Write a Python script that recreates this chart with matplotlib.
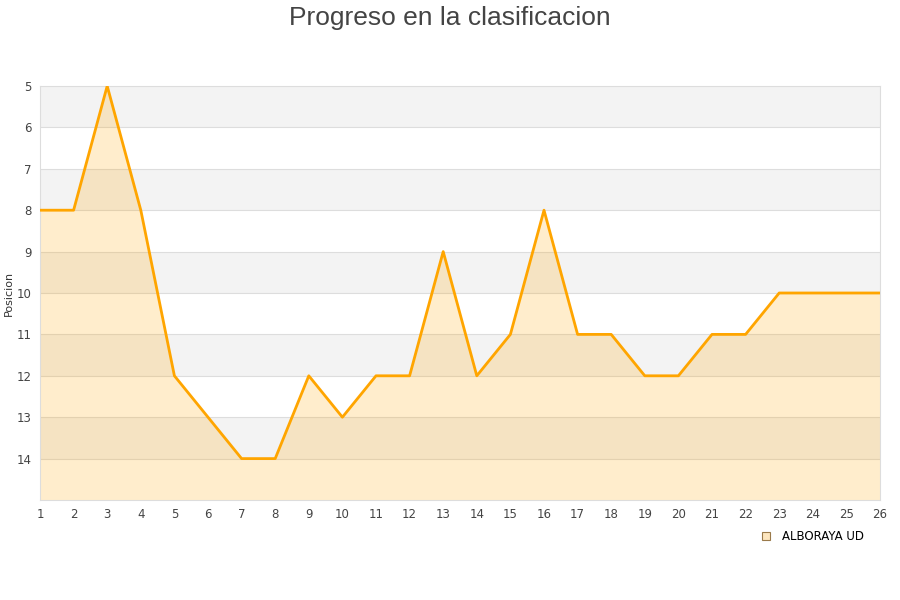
import matplotlib
matplotlib.use('Agg')
import matplotlib.pyplot as plt
import numpy as np

# Jornadas y posicion en la clasificacion
jornadas = list(range(1, 27))
posicion = [8, 8, 5, 8, 12, 13, 14, 14, 12, 13, 12, 12, 9, 12, 11, 8, 11, 11,
            12, 12, 11, 11, 10, 10, 10, 10]
equipo = "ALBORAYA UD"

fig = plt.figure(figsize=(9, 6), dpi=100)
ax = fig.add_axes([40/900, 1 - 500/600, 840/900, 414/600])

# alternating bands
for y0 in range(5, 15, 2):
    ax.axhspan(y0, y0 + 1, color="#f3f3f3", zorder=0, lw=0)
for y in range(6, 15):
    ax.axhline(y, color="#dddddd", lw=0.8, zorder=1)

ax.fill_between(jornadas, posicion, 15, color="orange", alpha=0.2, lw=0, zorder=2)
ax.plot(jornadas, posicion, color="orange", lw=2.0, zorder=3, label=equipo)

ax.set_xlim(1, 26)
ax.set_ylim(15, 5)
ax.set_xticks(jornadas)
ax.set_yticks(range(5, 15))
ax.tick_params(colors="#444444", labelsize=8.5, length=0, pad=6)
for s in ax.spines.values():
    s.set_color("#dddddd")
ax.set_ylabel("Posicion", fontsize=8, color="#333333", labelpad=2)

fig.suptitle("Progreso en la clasificacion", fontsize=19, color="#444444", y=0.99,
             family="Liberation Sans")

handle = plt.Line2D([], [], marker="s", ls="none", markersize=6,
                    markerfacecolor="#fde6bf", markeredgecolor="#9a7a4a", markeredgewidth=0.8)
fig.legend([handle], [equipo], loc="center", bbox_to_anchor=(809/900, 1 - 537/600),
           frameon=False, fontsize=8.5, handletextpad=0.3)

plt.savefig("out.png")
